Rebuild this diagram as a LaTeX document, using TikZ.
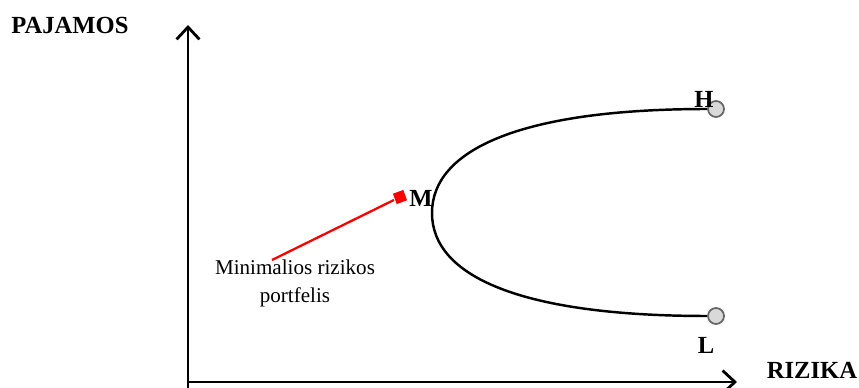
\documentclass[tikz,border=0pt]{standalone}
\usepackage{fontspec}
\setmainfont{Liberation Serif}
\usetikzlibrary{arrows.meta}
\begin{document}
\begin{tikzpicture}[x=0.02cm,y=-0.02cm,line width=1.4pt,
    axis/.style={-{Straight Barb[length=7pt,width=13pt]},line width=1.6pt},
    endnode/.style={circle,draw=black!60,fill=black!15,line width=1pt,inner sep=0pt,minimum size=0.32cm},
    minnode/.style={rectangle,fill=red,inner sep=0pt,minimum size=0.22cm,rotate=20},
    lbl/.style={font=\bfseries\fontsize{14}{16}\selectfont} ]
    \useasboundingbox (0,0) rectangle (859,388);
    \coordinate (O) at (188,382);
    \coordinate (ytop) at (188,25);
    \coordinate (xend) at (737,382);
    \draw [axis] (188,388) to (ytop);
    \draw [axis] (O) to (xend);
    \node at (70,25) [lbl] (pajamos) {PAJAMOS};
    \node at (812,370) [lbl] (rizika) {RIZIKA};
    \coordinate (V) at (432,213);
    \node at (716,109) [endnode] (H) {};
    \node at (716,316) [endnode] (L) {};
    \draw (H.west) .. controls (520,109) and (432,150) .. (V)
                 .. controls (432,276) and (520,316) .. (L.west);
    \node at (400,197) [minnode] (M) {};
    \node at (421,198) [lbl] (Mlbl) {M};
    \node at (704,99) [lbl] (Hlbl) {H};
    \node at (706,345) [lbl] (Llbl) {L};
    \node at (295,283) [align=center,font=\fontsize{12}{16}\selectfont] (txt) {Minimalios rizikos\\portfelis};
    \draw [red,line width=1.3pt] (M) to (272,260);
\end{tikzpicture}
\end{document}
